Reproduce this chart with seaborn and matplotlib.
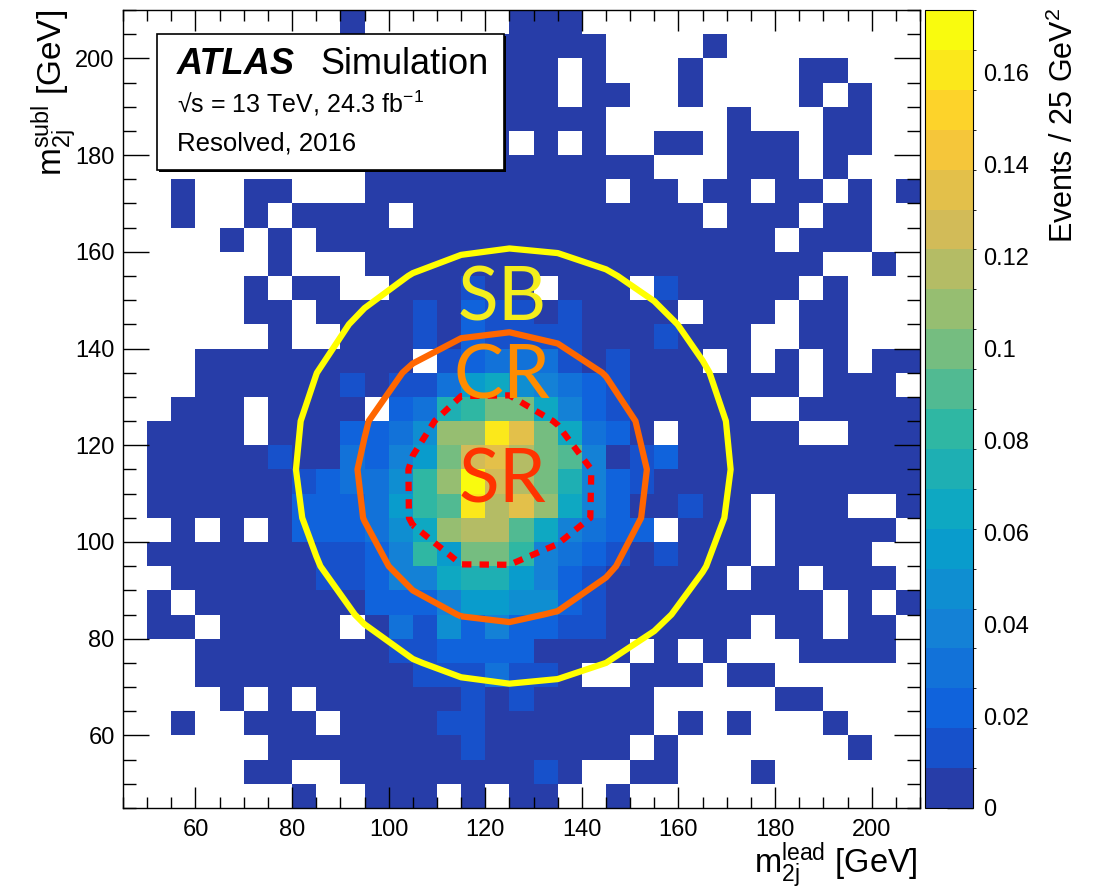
import numpy as np
import pandas as pd
import matplotlib
matplotlib.use("Agg")
import matplotlib.pyplot as plt
from matplotlib.colors import LinearSegmentedColormap, ListedColormap, BoundaryNorm
from matplotlib.patches import Rectangle
from matplotlib.ticker import MultipleLocator
import seaborn as sns

sns.set_style("ticks")
plt.rcParams["font.family"] = ["Liberation Sans", "DejaVu Sans"]
plt.rcParams["mathtext.fontset"] = "custom"
plt.rcParams["mathtext.rm"] = "Liberation Sans"
plt.rcParams["mathtext.it"] = "Liberation Sans:italic"
plt.rcParams["mathtext.bf"] = "Liberation Sans:bold"
for k in ["axes.edgecolor", "xtick.color", "ytick.color", "text.color", "axes.labelcolor"]:
    plt.rcParams[k] = "black"

# ---------------- data ----------------
bin_low_edges = list(range(45, 210, 5))          # 33 bins of 5 GeV, 45..210 GeV
z_max = 0.1737                                  # top of the colour scale
n_contours = 20                                 # colour bands
level_codes = "0123456789abcdefghij"            # band index of each bin, '.' = empty

# rows from top (m_subl 205-210) to bottom (m_subl 45-50); columns m_lead 45..210
bin_levels = [
    ".........0." ".....000..." "...........",
    "..........." "....00000.." "..0........",
    "..........." "....000.0.." ".0....00...",
    "..........." "....000.00." ".0....0.0..",
    "..........." "....00000.." "...0...00..",
    "..........." "....0.0.0.." "00.000.00..",
    "..........0" "00000000000" "...000.0...",
    "..0..00...0" "000000000.0" "0.00.00.0.0",
    "..0..0.0000" ".0000000000" "00.000.00..",
    "....0.0.000" "00000000000" "00000.000..",
    "......0...0" "00000000000" "0000000..0.",
    ".....0.00.." "000100.000." "100000.0...",
    ".....00.000" "01021101000" "0.000.00...",
    "......0..00" "01021111000" "1000..00...",
    "...00000000" "0.123331010" "00.0.0.0.00",
    "...00000010" "11367543210" "000000.000.",
    "..000.0000." "2389bb74210" "0000..00000",
    ".0000.00022" "35ccifb7320" ".00000..000",
    ".0000010032" "46befdba401" "20000000000",
    ".0000001233" "59cjedb8421" "00000000000",
    ".0000002223" "69aidfc7420" "0100.000..0",
    "..0.0.02223" "57cdda74322" ".000.00000.",
    ".0000000112" "496bb943210" "1000.0000..",
    "..000000112" "44788642100" "000.00.000.",
    ".0.00000002" "22466552100" "0000000.0.0",
    ".00.00000.0" "31524221100" "0000.00.00.",
    "...00000000" "1122220000." "0.0...0000.",
    "...00000000" "01113110..0" "00.00......",
    "....0.0.000" "00010100000" ".....00....",
    "..0..000.00" "00110000000" ".0.0...0...",
    "......00000" "0001000000." "0.......0..",
    ".....00..00" "00000010..0" "0...0......",
    ".......0..0" "00.0.00..0." "...........",
]

# signal / control / sideband region definitions
sr_centre = (120.0, 110.0)
sr_xhh_cut = 1.6
cr_centre = (123.5, 113.4)
cr_radius = 30.0
sb_centre = (125.8, 115.7)
sb_radius = 45.0

cb_tick_values = [0, 0.02, 0.04, 0.06, 0.08, 0.10, 0.12, 0.14, 0.16]
cb_tick_labels = ["0", "0.02", "0.04", "0.06", "0.08", "0.1", "0.12", "0.14", "0.16"]

# ---------------- prepare ----------------
assert all(len(r) == 33 for r in bin_levels) and len(bin_levels) == 33
band_width = z_max / n_contours
content = np.array([[np.nan if ch == "." else (level_codes.index(ch) + 0.5) * band_width
                     for ch in row] for row in bin_levels])
centres = [e + 2.5 for e in bin_low_edges]
df = pd.DataFrame(content, index=centres[::-1], columns=centres)

# ROOT kBird palette
stops = [0.0000, 0.1250, 0.2500, 0.3750, 0.5000, 0.6250, 0.7500, 0.8750, 1.0000]
red = [0.2082, 0.0592, 0.0780, 0.0232, 0.1802, 0.5301, 0.8186, 0.9956, 0.9764]
green = [0.1664, 0.3599, 0.5041, 0.6419, 0.7178, 0.7492, 0.7328, 0.7862, 0.9832]
blue = [0.5293, 0.8684, 0.8385, 0.7914, 0.6425, 0.4662, 0.3499, 0.1968, 0.0539]
bird = LinearSegmentedColormap.from_list("bird", list(zip(stops, zip(red, green, blue))))
palette = ListedColormap([bird((k + 1) / n_contours) for k in range(n_contours)])
norm = BoundaryNorm(np.linspace(0, z_max, n_contours + 1), palette.N)

# ---------------- figure ----------------
W, H = 1097, 891
fig = plt.figure(figsize=(W / 100, H / 100), dpi=100)
fx = lambda p: p / W
fy = lambda p: 1 - p / H
L, R, T, B = 123, 920, 10, 808
rect = [fx(L), fy(B), (R - L) / W, (B - T) / H]
ax = fig.add_axes(rect)
cax = fig.add_axes([fx(925), fy(B), 48 / W, (B - T) / H])

sns.heatmap(df, ax=ax, cmap=palette, norm=norm, cbar=True, cbar_ax=cax,
            xticklabels=False, yticklabels=False, linewidths=0,
            cbar_kws={"ticks": cb_tick_values})
ax.tick_params(length=0)
ax.set_xlabel("")
ax.set_ylabel("")

cb = ax.collections[0].colorbar
cb.set_ticks(cb_tick_values, labels=cb_tick_labels)
cb.outline.set_linewidth(0.8)
cb.outline.set_edgecolor("black")
cax.tick_params(direction="in", length=19, width=1, color="black", labelsize=17,
                pad=7, right=True, left=False)

# overlay axes in GeV
ax2 = fig.add_axes(rect, facecolor="none")
ax2.set_xlim(45, 210)
ax2.set_ylim(45, 210)
for a in (ax2.xaxis, ax2.yaxis):
    a.set_major_locator(MultipleLocator(20))
    a.set_minor_locator(MultipleLocator(5))
ax2.tick_params(which="both", direction="in", top=True, right=True, width=1,
                color="black", labelsize=17)
ax2.tick_params(axis="x", which="major", length=15, pad=8)
ax2.tick_params(axis="x", which="minor", length=8)
ax2.tick_params(axis="y", which="major", length=19, pad=6)
ax2.tick_params(axis="y", which="minor", length=9.5)
for s in ax2.spines.values():
    s.set_linewidth(1)
    s.set_color("black")

grid = np.arange(5, 256, 10.0)
GX, GY = np.meshgrid(grid, grid)
z_sb = np.hypot(GX - sb_centre[0], GY - sb_centre[1])
z_cr = np.hypot(GX - cr_centre[0], GY - cr_centre[1])
z_sr = np.sqrt(((GX - sr_centre[0]) / (0.1 * GX)) ** 2 + ((GY - sr_centre[1]) / (0.1 * GY)) ** 2)
ax2.contour(GX, GY, z_sb, levels=[sb_radius], colors=["#ffff00"], linewidths=4.5, zorder=3)
ax2.contour(GX, GY, z_cr, levels=[cr_radius], colors=["#ff6600"], linewidths=4.5, zorder=3)
cs = ax2.contour(GX, GY, z_sr, levels=[sr_xhh_cut], colors=["#ff0000"], linewidths=4.5, zorder=3)
cs.set_linestyle((0, (1.5, 1.3)))

ax2.text(123.5, 145.7, "SB", color="#f4ee1c", fontsize=54, family="Lato", ha="center", va="baseline", zorder=4)
ax2.text(123.5, 129.7, "CR", color="#ff8c00", fontsize=54, family="Lato", ha="center", va="baseline", zorder=4)
ax2.text(123.5, 108.1, "SR", color="#ff3300", fontsize=54, family="Lato", ha="center", va="baseline", zorder=4)

# legend box with shadow
bx0, by0, bx1, by1 = 157, 34, 504, 170
fig.add_artist(Rectangle((fx(bx0 + 2), fy(by1 + 2)), (bx1 - bx0) / W, (by1 - by0) / H,
                         transform=fig.transFigure, facecolor="black", edgecolor="black", lw=0, zorder=5))
fig.add_artist(Rectangle((fx(bx0), fy(by1)), (bx1 - bx0) / W, (by1 - by0) / H,
                         transform=fig.transFigure, facecolor="white", edgecolor="black", lw=1.2, zorder=5.1))
fig.text(fx(177), fy(74), "ATLAS", fontsize=26, fontweight="bold", fontstyle="italic",
         ha="left", va="baseline", zorder=6)
fig.text(fx(320), fy(74), "Simulation", fontsize=26, ha="left", va="baseline", zorder=6)
fig.text(fx(177), fy(113), "√s = 13 TeV, 24.3 fb$^{\\mathrm{-1}}$", fontsize=18,
         ha="left", va="baseline", zorder=6)
fig.text(fx(177), fy(151), "Resolved, 2016", fontsize=18.5, ha="left", va="baseline", zorder=6)

# axis titles
fig.text(fx(918), fy(873), r"m$_{\mathrm{2j}}^{\mathrm{lead}}$ [GeV]", fontsize=23.5,
         ha="right", va="baseline")
fig.text(fx(62), fy(10), r"m$_{\mathrm{2j}}^{\mathrm{subl}}$ [GeV]", fontsize=24,
         rotation=90, rotation_mode="anchor", ha="right", va="baseline")
fig.text(fx(1073), fy(8), r"Events / 25 GeV$^{2}$", fontsize=22,
         rotation=90, rotation_mode="anchor", ha="right", va="baseline")

fig.savefig("out.png", dpi=100)
